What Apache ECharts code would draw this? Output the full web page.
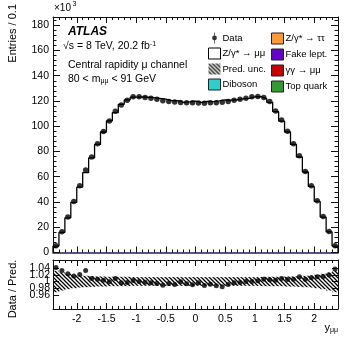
<!DOCTYPE html>
<html>
<head>
<meta charset="utf-8">
<script src="https://cdn.jsdelivr.net/npm/echarts@6/dist/echarts.min.js"></script>
<style>
  html, body { margin: 0; padding: 0; background: #fff; }
  #main { width: 357px; height: 344px; }
</style>
</head>
<body>
<div id="main"></div>
<script>
// rapidity bins: 48 bins of 0.1 from -2.4 to 2.4
var binLow = -2.4, binWidth = 0.1, nBins = 48;

// data, entries / 0.1 in units of 10^3
var dataVals = [5.3, 16.4, 28.1, 40.4, 52.9, 65.3, 75.6, 86.2, 95.8, 104.2, 111.8, 116.9,
  120.5, 123.4, 123.3, 122.7, 122.1, 121.4, 120.1, 119.6, 119.1, 118.8, 118.5, 118.6,
  118.4, 118.2, 118.6, 118.5, 119.0, 119.5, 120.5, 121.3, 122.1, 123.3, 123.6, 122.7,
  119.5, 112.0, 105.0, 96.0, 86.2, 76.7, 64.2, 52.9, 41.0, 28.5, 16.7, 5.3];

// prediction (Z/γ* → μμ + backgrounds)
var predVals = [5.09, 15.88, 27.47, 39.76, 51.81, 63.21, 74.93, 85.60, 95.42, 104.30, 110.80, 117.37,
  120.86, 123.03, 123.30, 122.95, 122.59, 122.13, 121.44, 120.32, 120.18, 118.92, 119.34, 119.80,
  118.88, 119.64, 119.56, 120.06, 120.93, 120.59, 120.98, 121.66, 122.10, 123.30, 123.35, 121.85,
  118.91, 111.55, 104.06, 95.43, 85.60, 75.64, 63.75, 52.32, 40.43, 28.08, 16.39, 5.11];

// data / prediction
var ratioVals = [1.042, 1.033, 1.023, 1.016, 1.021, 1.033, 1.009, 1.007, 1.004, 0.999, 1.009, 0.996,
  0.997, 1.003, 1.000, 0.998, 0.996, 0.994, 0.989, 0.994, 0.991, 0.999, 0.993, 0.990,
  0.996, 0.988, 0.992, 0.987, 0.984, 0.991, 0.996, 0.997, 1.000, 1.000, 1.002, 1.007,
  1.005, 1.004, 1.009, 1.006, 1.007, 1.014, 1.007, 1.011, 1.014, 1.015, 1.019, 1.037];

// relative prediction uncertainty (half width of band)
var predUnc = [0.032, 0.027, 0.023, 0.020, 0.018, 0.017, 0.016, 0.015, 0.015, 0.014, 0.014, 0.014,
  0.014, 0.013, 0.013, 0.013, 0.013, 0.013, 0.013, 0.013, 0.013, 0.013, 0.013, 0.013,
  0.013, 0.013, 0.013, 0.013, 0.013, 0.013, 0.013, 0.013, 0.013, 0.013, 0.013, 0.014,
  0.014, 0.014, 0.014, 0.015, 0.015, 0.016, 0.017, 0.018, 0.020, 0.023, 0.027, 0.032];

var xMajor = [-2, -1.5, -1, -0.5, 0, 0.5, 1, 1.5, 2];
var ratioTicks = [0.96, 0.98, 1, 1.02, 1.04];
// the ratio labels overlap in the original, so they are split over two axes
var ratioLabelsA = [0.96, 1, 1.04];
var ratioLabelsB = [0.98, 1.02];

var FONT = '"Liberation Sans", Arial, Helvetica, sans-serif';

var edges = [], centers = [];
for (var i = 0; i <= nBins; i++) edges.push(+(binLow + i * binWidth).toFixed(2));
for (var i = 0; i < nBins; i++) centers.push(+(binLow + (i + 0.5) * binWidth).toFixed(3));

// step outline of the prediction
var histPts = [[edges[0], 0]];
predVals.forEach(function (v, i) { histPts.push([edges[i], v]); });
histPts.push([edges[nBins], predVals[nBins - 1]]);
histPts.push([edges[nBins], 0]);

// hatch pattern for the uncertainty band
function makeHatch() {
  var c = document.createElement('canvas');
  c.width = 4; c.height = 4;
  var g = c.getContext('2d');
  g.strokeStyle = '#000';
  g.lineWidth = 1.25;
  g.beginPath();
  g.moveTo(-1, -1); g.lineTo(5, 5);
  g.moveTo(-1, 3); g.lineTo(1, 5);
  g.moveTo(3, -1); g.lineTo(5, 1);
  g.stroke();
  return c;
}
var hatch = { image: makeHatch(), repeat: 'repeat' };

var chart = echarts.init(document.getElementById('main'), null, { renderer: 'canvas' });

function frameLine(color, width) {
  return { show: true, onZero: false, lineStyle: { color: color || '#111', width: width || 1 } };
}
function xMinorAxis(grid, pos, line) {
  return {
    type: 'value', gridIndex: grid, position: pos, min: -2.4, max: 2.4, interval: 0.1,
    axisLine: line || frameLine(), axisLabel: { show: false }, splitLine: { show: false },
    axisTick: { show: true, inside: true, length: 3, lineStyle: { color: '#111' } }
  };
}
function xMajorAxis(grid, pos, labels) {
  return {
    type: 'value', gridIndex: grid, position: pos, min: -2.4, max: 2.4,
    axisLine: { show: false, onZero: false }, splitLine: { show: false },
    axisTick: { show: true, inside: true, length: 6, customValues: xMajor, lineStyle: { color: '#111' } },
    axisLabel: labels ? {
      show: true, customValues: xMajor, margin: 5, color: '#000', fontSize: 10.5, fontFamily: FONT,
      formatter: function (v) { return String(v); }
    } : { show: false }
  };
}
function yMainAxis(pos, labels) {
  return {
    type: 'value', gridIndex: 0, position: pos, min: 0, max: 186.5, interval: 20,
    axisLine: frameLine(), splitLine: { show: false },
    axisTick: { show: true, inside: true, length: 7, lineStyle: { color: '#111' } },
    minorTick: { show: true, splitNumber: 5, length: 3.5, lineStyle: { color: '#111' } },
    axisLabel: labels ? {
      show: true, margin: 4, color: '#000', fontSize: 10.5, fontFamily: FONT,
      formatter: function (v) { return v <= 180 ? String(v) : ''; }
    } : { show: false }
  };
}
function yRatioAxis(pos, labels, withLine) {
  return {
    type: 'value', gridIndex: 1, position: pos, min: 0.918, max: 1.064,
    axisLine: withLine ? frameLine() : { show: false, onZero: false }, splitLine: { show: false },
    axisTick: { show: withLine, inside: true, length: 6, customValues: ratioTicks, lineStyle: { color: '#111' } },
    axisLabel: labels ? {
      show: true, customValues: labels, margin: 3, color: '#000', fontSize: 10.5, fontFamily: FONT,
      hideOverlap: false,
      formatter: function (v) { return String(+v.toFixed(2)); }
    } : { show: false }
  };
}

var legendText = { color: '#000', fontSize: 9.5, fontFamily: FONT, padding: [0, 0, 0, -3] };
var boxBorder = { borderColor: '#222', borderWidth: 1 };

chart.setOption({
  animation: false,
  backgroundColor: '#fff',
  grid: [
    { left: 53, right: 19, top: 17, height: 235.5 },
    { left: 53, right: 19, top: 260, height: 49 }
  ],
  xAxis: [
    xMinorAxis(0, 'bottom', frameLine('#20205a', 1.6)),
    xMajorAxis(0, 'bottom', false),
    xMinorAxis(0, 'top'),
    xMajorAxis(0, 'top', false),
    xMinorAxis(1, 'bottom'),
    xMajorAxis(1, 'bottom', true),
    xMinorAxis(1, 'top'),
    xMajorAxis(1, 'top', false)
  ],
  yAxis: [
    yMainAxis('left', true),
    yMainAxis('right', false),
    yRatioAxis('left', ratioLabelsA, true),
    yRatioAxis('right', null, true),
    yRatioAxis('left', ratioLabelsB, false)
  ],
  legend: [
    {
      orient: 'vertical', left: 203, top: 27.5, itemWidth: 12, itemHeight: 11, itemGap: 4,
      textStyle: legendText, selectedMode: false,
      data: [
        { name: 'Data', icon: 'path://M4.6,0H5.4V12H4.6Z M5,3.4A2.6,2.6,0,1,1,4.99,3.4Z', itemStyle: { color: '#000' } },
        { name: 'Z/γ* → μμ', icon: 'rect', itemStyle: { color: '#fff', borderColor: '#000', borderWidth: 1 } },
        { name: 'Pred. unc.', icon: 'rect', itemStyle: { color: hatch, borderWidth: 0 } },
        { name: 'Diboson', icon: 'rect', itemStyle: Object.assign({ color: '#33cccc' }, boxBorder) }
      ]
    },
    {
      orient: 'vertical', left: 266, top: 27.5, itemWidth: 12, itemHeight: 11, itemGap: 4,
      textStyle: legendText, selectedMode: false,
      data: [
        { name: 'Z/γ* → ττ', icon: 'rect', itemStyle: Object.assign({ color: '#ff9933' }, boxBorder) },
        { name: 'Fake lept.', icon: 'rect', itemStyle: Object.assign({ color: '#6600cc' }, boxBorder) },
        { name: 'γγ → μμ', icon: 'rect', itemStyle: Object.assign({ color: '#cc0000' }, boxBorder) },
        { name: 'Top quark', icon: 'rect', itemStyle: Object.assign({ color: '#339933' }, boxBorder) }
      ]
    }
  ],
  graphic: [
    { type: 'text', x: 54, y: 3, style: { text: '×10', fontSize: 10, fontFamily: FONT, fill: '#000' } },
    { type: 'text', x: 72.5, y: 0.5, style: { text: '3', fontSize: 7, fontFamily: FONT, fill: '#000' } },
    { type: 'text', x: 13, y: 4, rotation: Math.PI / 2,
      style: { text: 'Entries / 0.1', align: 'right', verticalAlign: 'middle', fontSize: 11, fontFamily: FONT, fill: '#000' } },
    { type: 'text', x: 13, y: 289, rotation: Math.PI / 2,
      style: { text: 'Data / Pred.', align: 'center', verticalAlign: 'middle', fontSize: 11, fontFamily: FONT, fill: '#000' } },
    { type: 'text', x: 68, y: 26, style: { text: 'ATLAS', fontSize: 12, fontWeight: 'bold', fontStyle: 'italic', fontFamily: FONT, fill: '#000' } },
    { type: 'text', x: 63, y: 41, style: {
      text: '√s = 8 TeV, 20.2 fb{sup|-1}', fontSize: 10.5, fontFamily: FONT, fill: '#000',
      rich: { sup: { fontSize: 7, verticalAlign: 'top', fontFamily: FONT, fill: '#000' } } } },
    { type: 'text', x: 68, y: 60, style: { text: 'Central rapidity μ channel', fontSize: 10.5, fontFamily: FONT, fill: '#000' } },
    { type: 'text', x: 68, y: 74, style: {
      text: '80 < m{sub|μμ} < 91 GeV', fontSize: 10.5, fontFamily: FONT, fill: '#000',
      rich: { sub: { fontSize: 7, verticalAlign: 'bottom', fontFamily: FONT, fill: '#000', padding: [4, 0, 0, 0] } } } },
    { type: 'text', x: 338, y: 322, style: {
      text: 'y{sub|μμ}', align: 'right', fontSize: 11, fontFamily: FONT, fill: '#000',
      rich: { sub: { fontSize: 7, verticalAlign: 'bottom', fontFamily: FONT, fill: '#000', padding: [5, 0, 0, 0] } } } }
  ],
  series: [
    // background entries (too small to be visible on this scale)
    { name: 'Z/γ* → ττ', type: 'bar', xAxisIndex: 0, yAxisIndex: 0, data: [], itemStyle: { color: '#ff9933' } },
    { name: 'Fake lept.', type: 'bar', xAxisIndex: 0, yAxisIndex: 0, data: [], itemStyle: { color: '#6600cc' } },
    { name: 'γγ → μμ', type: 'bar', xAxisIndex: 0, yAxisIndex: 0, data: [], itemStyle: { color: '#cc0000' } },
    { name: 'Top quark', type: 'bar', xAxisIndex: 0, yAxisIndex: 0, data: [], itemStyle: { color: '#339933' } },
    { name: 'Diboson', type: 'bar', xAxisIndex: 0, yAxisIndex: 0, data: [], itemStyle: { color: '#33cccc' } },
    {
      name: 'Z/γ* → μμ', type: 'line', step: 'end', xAxisIndex: 0, yAxisIndex: 0,
      data: histPts, showSymbol: false, symbol: 'none',
      lineStyle: { color: '#000', width: 1.3 }, itemStyle: { color: '#000' }, z: 3
    },
    {
      name: 'Data', type: 'scatter', xAxisIndex: 0, yAxisIndex: 0,
      data: centers.map(function (c, i) { return [c, dataVals[i]]; }),
      symbol: 'circle', symbolSize: 5.5, itemStyle: { color: '#000' }, z: 5
    },
    {
      name: 'Pred. unc.', type: 'custom', xAxisIndex: 4, yAxisIndex: 2,
      data: centers.map(function (c, i) { return [edges[i], edges[i + 1], 1 - predUnc[i], 1 + predUnc[i]]; }),
      encode: { x: [0, 1], y: [2, 3] },
      renderItem: function (params, api) {
        var a = api.coord([api.value(0), api.value(3)]);
        var b = api.coord([api.value(1), api.value(2)]);
        return {
          type: 'rect',
          shape: { x: a[0], y: a[1], width: b[0] - a[0] + 0.3, height: b[1] - a[1] },
          style: { fill: hatch }
        };
      },
      itemStyle: { color: hatch }, z: 2
    },
    {
      name: 'ratio', type: 'scatter', xAxisIndex: 4, yAxisIndex: 2,
      data: centers.map(function (c, i) { return [c, ratioVals[i]]; }),
      symbol: 'circle', symbolSize: 5, itemStyle: { color: '#000' }, z: 5
    }
  ]
});
</script>
</body>
</html>
